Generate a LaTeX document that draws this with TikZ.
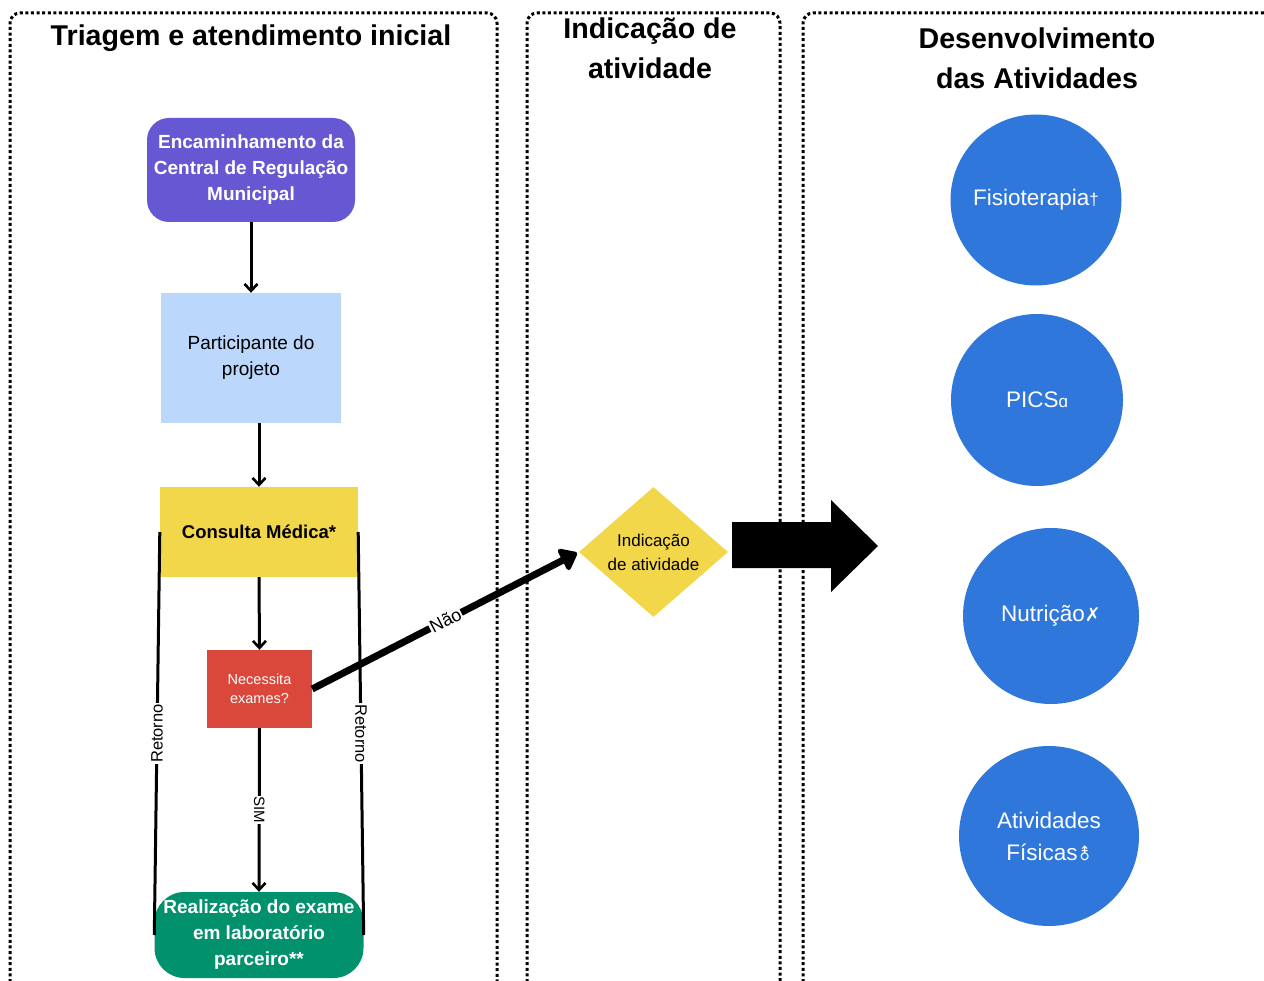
\documentclass[tikz,border=0pt]{standalone}
\usepackage{fontspec}
\setmainfont{Liberation Sans}
\newfontfamily\symfont{DejaVu Sans}
\usetikzlibrary{arrows.meta,shapes.geometric}
\definecolor{cpurple}{RGB}{102,88,210}
\definecolor{cblue}{RGB}{188,215,252}
\definecolor{cyellow}{RGB}{243,215,75}
\definecolor{cred}{RGB}{217,72,59}
\definecolor{cgreen}{RGB}{1,145,108}
\definecolor{ccircle}{RGB}{48,119,220}
\newcommand{\myfs}[2]{\fontsize{#1}{#2}\selectfont}
\begin{document}
\begin{tikzpicture}[x=1pt,y=-1pt,
  panel/.style={line width=3pt, dash pattern=on 3pt off 2.6pt, rounded corners=10pt},
  title/.style={font=\myfs{28.6}{40}\bfseries, align=center, inner sep=0pt},
  box/.style={inner sep=0pt, align=center},
  conn/.style={line width=3pt, -{Straight Barb[length=7pt,width=13pt,line width=2.6pt]}},
  plain/.style={line width=3pt},
  lbl/.style={fill=white, inner sep=1pt, font=\myfs{16.5}{18}},
  circ/.style={circle, fill=ccircle, inner sep=0pt, text=white, align=center, font=\myfs{22.5}{32}}
]
\useasboundingbox (0,0) rectangle (1264,981);
\fill[white] (0,0) rectangle (1264,981);

% panels
\draw[panel] (10,1010) -- (10,13) -- (497,13) -- (497,1010);
\draw[panel] (527,1010) -- (527,13) -- (780,13) -- (780,1010);
\draw[panel] (803,1010) -- (803,13) -- (1290,13);

% titles
\node[title] (t1) at (251,38) {Triagem e atendimento inicial};
\node[title] (t2) at (650,48) {Indicação de\\atividade};
\node[title] (t3) at (1037,58) {Desenvolvimento\\das Atividades};

% nodes
\node[box, fill=cpurple, rounded corners=22pt, minimum width=208pt, minimum height=104pt,
      text=white, font=\myfs{19}{26}\bfseries] (enc) at (251,170)
      {Encaminhamento da\\Central de Regulação\\Municipal};
\node[box, fill=cblue, minimum width=180pt, minimum height=130pt,
      font=\myfs{19}{26}] (part) at (251,358) {Participante do\\projeto};
\node[box, fill=cyellow, minimum width=198pt, minimum height=90pt,
      font=\myfs{18.5}{24}\bfseries] (cons) at (259,532) {Consulta Médica*};
\node[box, fill=cred, minimum width=105pt, minimum height=78pt,
      text=white, font=\myfs{14.5}{19}] (nec) at (259.5,689) {Necessita\\exames?};
\node[box, fill=cgreen, rounded corners=30pt, minimum width=209pt, minimum height=86pt,
      text=white, font=\myfs{19}{26}\bfseries] (real) at (259,935)
      {Realização do exame\\em laboratório\\parceiro**};

\node[diamond, fill=cyellow, minimum width=149pt, minimum height=130pt, inner sep=0pt] (dia) at (653.5,552) {};
\node[box, font=\myfs{17}{24}] (diat) at (dia.center) {Indicação\\de atividade};

% circles
\node[circ, minimum size=171pt] (c1) at (1036,200) {Fisioterapia{\myfs{17}{20}†}};
\node[circ, minimum size=172pt] (c2) at (1037,400) {PICS{\myfs{17}{20}ɑ}};
\node[circ, minimum size=176pt] (c3) at (1051,616) {Nutrição{\symfont\myfs{19}{20}\bfseries ✗}};
\node[circ, minimum size=180pt] (c4) at (1049,836) {Atividades\\Físicas{\symfont\myfs{17}{20}⚨}};

% connectors
\draw[conn] (enc.south) -- (part.north);
\draw[conn] (cons.north |- part.south) -- (cons.north);
\draw[conn] (cons.south) -- (nec.north);
\draw[conn] (nec.south) -- node[lbl, rotate=-90, font=\myfs{15}{17}] (sim) {SIM} (real.north);
\draw[plain] (cons.west) -- node[lbl, rotate=90, pos=0.5] (r1) {Retorno} (real.west);
\draw[plain] (cons.east) -- node[lbl, rotate=-90, pos=0.5] (r2) {Retorno} (real.east);

\draw[line width=7pt, -{Triangle[round,length=18pt,width=27pt]}, shorten >=2pt]
  (nec.east) -- node[lbl, sloped, pos=0.5, font=\myfs{18}{20}] (nao) {Não} (dia.west);

% big arrow
\coordinate (ba) at (732,545);
\fill[black] (ba) ++(0,-23) -- ++(99,0) -- ++(0,-22) -- (878,546) -- (831,592) -- (831,568) -- (732,568) -- cycle;
\end{tikzpicture}
\end{document}
